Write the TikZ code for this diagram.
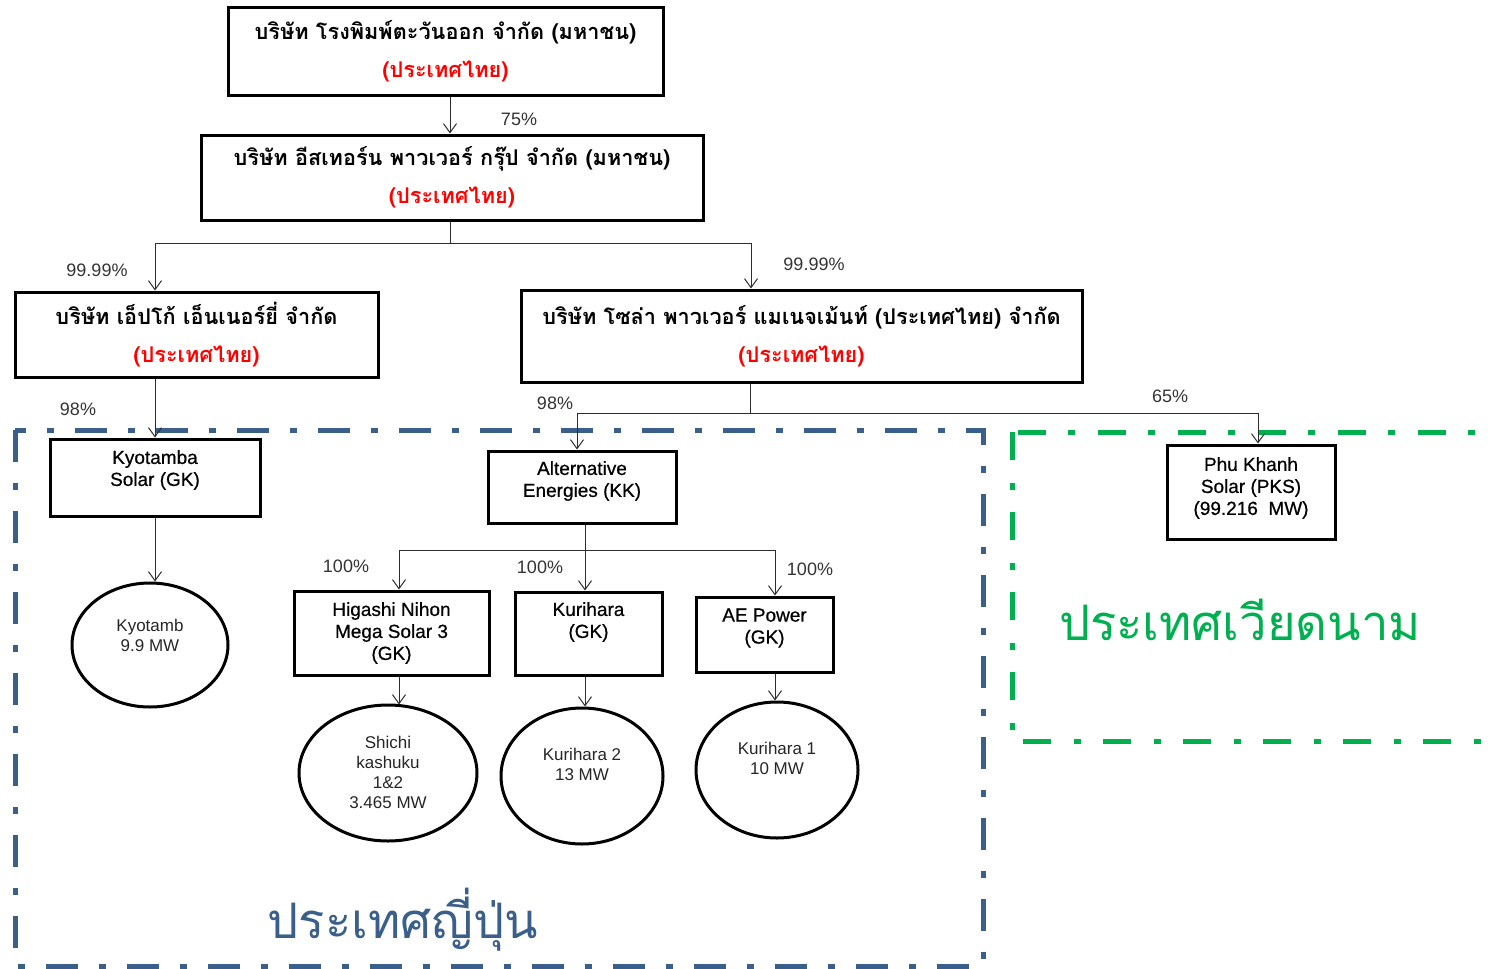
\documentclass[tikz,border=0pt]{standalone}
\usepackage{fontspec}
\setmainfont{Liberation Sans}
\newfontfamily\thai[Script=Thai]{Loma}
\newfontfamily\boxfont[FakeBold=0.6]{Liberation Sans}
\usetikzlibrary{arrows.meta,shapes.geometric,calc}
\definecolor{jpblue}{RGB}{58,95,139}
\definecolor{vngreen}{RGB}{0,176,80}
\definecolor{connc}{RGB}{45,45,45}
\begin{document}
\begin{tikzpicture}[x=1pt,y=-1pt,
 thbox/.style={draw=black,line width=3pt,align=center,inner sep=0pt,font=\thai\bfseries\fontsize{21.7}{38}\selectfont},
 ebox/.style={draw=black,line width=3pt,inner sep=0pt},
 etext/.style={align=center,inner sep=0pt,font=\boxfont\fontsize{19}{22}\selectfont},
 ctext/.style={align=center,inner sep=0pt,font=\fontsize{17}{20}\selectfont,text=black!85},
 plant/.style={draw=black,line width=3pt,ellipse,inner sep=0pt},
 pct/.style={inner sep=0pt,font=\fontsize{18}{20}\selectfont,text=black!80},
 conn/.style={draw=connc,line width=1pt},
 arr/.style={conn,-{Straight Barb[length=9pt,width=13pt]}},
 region/.style={inner sep=0pt,font=\thai\fontsize{49}{55}\selectfont},
]
\useasboundingbox (0,0) rectangle (1491,969);
\clip (0,0) rectangle (1491,969);

% country regions
\draw[jpblue,line width=5pt,dash pattern=on 32pt off 21pt on 7pt off 21pt] (15,430) rectangle (983,966);
\draw[vngreen,line width=5pt,dash pattern=on 28pt off 23pt on 7pt off 22pt] (1012,432) rectangle (1520,741);

% Thai companies
\node[thbox,minimum width=435pt,minimum height=88pt] (b1) at (445.5,51) {บริษัท โรงพิมพ์ตะวันออก จำกัด (มหาชน)\\\textcolor{red}{(ประเทศไทย)}};
\node[thbox,minimum width=502pt,minimum height=85pt] (b2) at (452,177.5) {บริษัท อีสเทอร์น พาวเวอร์ กรุ๊ป จำกัด (มหาชน)\\\textcolor{red}{(ประเทศไทย)}};
\node[thbox,minimum width=363pt,minimum height=85pt] (b3) at (196.5,334.5) {บริษัท เอ็ปโก้ เอ็นเนอร์ยี่ จำกัด\\\textcolor{red}{(ประเทศไทย)}};
\node[thbox,minimum width=561pt,minimum height=92pt] (b4) at (801.5,336) {บริษัท โซล่า พาวเวอร์ แมเนจเม้นท์ (ประเทศไทย) จำกัด\\\textcolor{red}{(ประเทศไทย)}};

% Japanese / Vietnamese companies
\node[ebox,minimum width=210pt,minimum height=77pt] (kyo) at (155,477.5) {};
\node[etext] (kyoT) at (155,470) {Kyotamba\\Solar (GK)};
\node[ebox,minimum width=188pt,minimum height=72pt] (ae) at (582,487) {};
\node[etext] (aeT) at (582,481) {Alternative\\Energies (KK)};
\node[ebox,minimum width=195pt,minimum height=84pt] (hig) at (391.5,633) {};
\node[etext] (higT) at (391.5,633) {Higashi Nihon\\Mega Solar 3\\(GK)};
\node[ebox,minimum width=147pt,minimum height=83pt] (kur) at (588.5,633.5) {};
\node[etext] (kurT) at (588.5,622) {Kurihara\\(GK)};
\node[ebox,minimum width=137pt,minimum height=75pt] (aep) at (764.5,634.5) {};
\node[etext] (aepT) at (764.5,628) {AE Power\\(GK)};
\node[ebox,minimum width=168pt,minimum height=94pt] (pk) at (1251,492) {};
\node[etext] (pkT) at (1251,488) {Phu Khanh\\Solar (PKS)\\(99.216~~MW)};

% plants
\node[plant,minimum width=156pt,minimum height=124pt] (c1) at (150,645) {};
\node[ctext] (c1T) at (150,635) {Kyotamb\\9.9 MW};
\node[plant,minimum width=178pt,minimum height=136pt] (c2) at (388,773) {};
\node[ctext] (c2T) at (388,772) {Shichi\\kashuku\\1\&2\\3.465 MW};
\node[plant,minimum width=162pt,minimum height=136pt] (c3) at (582,776) {};
\node[ctext] (c3T) at (582,764) {Kurihara 2\\13 MW};
\node[plant,minimum width=162pt,minimum height=136pt] (c4) at (777,770) {};
\node[ctext] (c4T) at (777,758.5) {Kurihara 1\\10 MW};

% junction coordinates
\coordinate (j1) at (450,243);
\coordinate (j3) at (155,243);
\coordinate (j4) at (751,243);
\coordinate (j5) at (750,413);
\coordinate (j6) at (577,413);
\coordinate (j7) at (1258,413);
\coordinate (j8) at (585,550);
\coordinate (j9) at (399,550);
\coordinate (j10) at (775,550);

% connectors
\draw[arr] (b1.south -| j1) -- (j1 |- b2.north);
\draw[conn] (b2.south -| j1) -- (j1);
\draw[conn] (j3) -- (j4);
\draw[arr] (j3) -- (j3 |- b3.north);
\draw[arr] (j4) -- (j4 |- b4.north);
\draw[arr] (b3.south -| j3) -- (j3 |- kyo.north);
\draw[conn] (b4.south -| j5) -- (j5);
\draw[conn] (j6) -- (j7);
\draw[arr] (j6) -- (j6 |- ae.north);
\draw[arr] (j7) -- (j7 |- pk.north);
\draw[conn] (ae.south -| j8) -- (j8);
\draw[conn] (j9) -- (j10);
\draw[arr] (j9) -- (j9 |- hig.north);
\draw[arr] (j8) -- (j8 |- kur.north);
\draw[arr] (j10) -- (j10 |- aep.north);
\draw[arr] (kyo.south -| j3) -- (j3 |- c1.north);
\draw[arr] (hig.south -| j9) -- ($(j9 |- c2.north)+(0,1)$);
\draw[arr] (kur.south -| j8) -- (j8 |- c3.north);
\draw[arr] (aep.south -| j10) -- (j10 |- c4.north);

% percentages
\node[pct] (p1) at (519,119) {75\%};
\node[pct] (p2) at (97,270) {99.99\%};
\node[pct] (p3) at (814,264) {99.99\%};
\node[pct] (p4) at (78,409) {98\%};
\node[pct] (p5) at (555,403) {98\%};
\node[pct] (p6) at (1170,396) {65\%};
\node[pct] (p7) at (346,566) {100\%};
\node[pct] (p8) at (540,567) {100\%};
\node[pct] (p9) at (810,569) {100\%};

% region labels
\node[region,text=vngreen] (vn) at (1240,620) {ประเทศเวียดนาม};
\node[region,text=jpblue] (jp) at (403,920) {ประเทศญี่ปุ่น};
\end{tikzpicture}
\end{document}
